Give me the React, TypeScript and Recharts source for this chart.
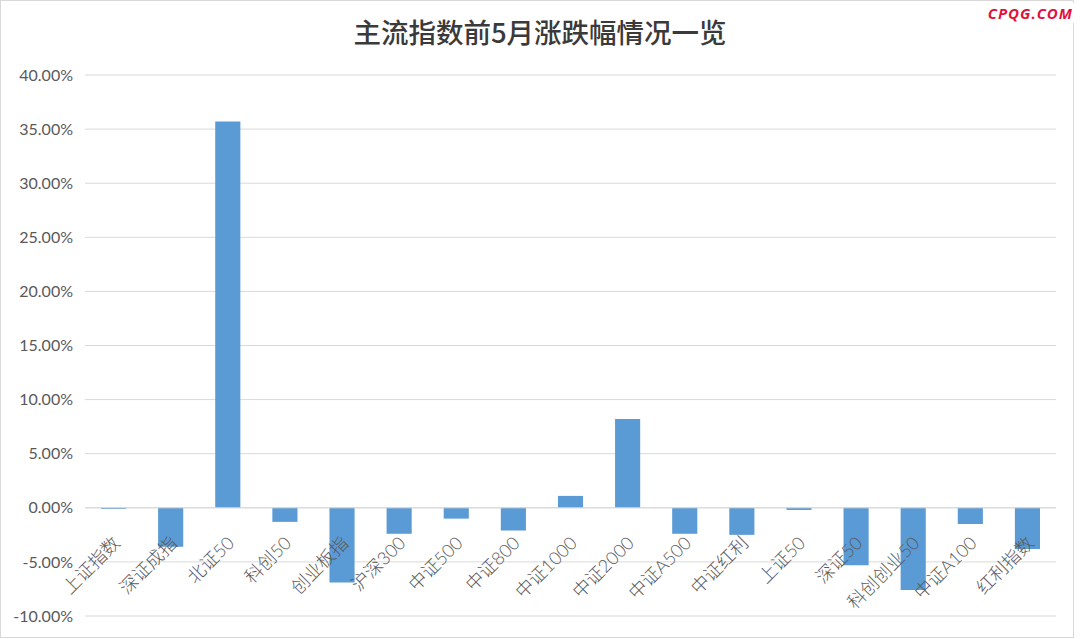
import { BarChart, Bar, XAxis, YAxis, CartesianGrid, ReferenceLine } from "recharts";

const categories = [
  "上证指数", "深证成指", "北证50", "科创50", "创业板指", "沪深300", "中证500", "中证800",
  "中证1000", "中证2000", "中证A500", "中证红利", "上证50", "深证50", "科创创业50", "中证A100", "红利指数",
];
const changes = [
  -0.001, -0.036, 0.357, -0.013, -0.069, -0.024, -0.010, -0.021,
  0.011, 0.082, -0.024, -0.025, -0.002, -0.053, -0.076, -0.015, -0.038,
];
const yTicks = [-0.1, -0.05, 0, 0.05, 0.1, 0.15, 0.2, 0.25, 0.3, 0.35, 0.4];

const data = categories.map((name, i) => ({ name, value: changes[i] }));

const W = 1080;
const H = 639;
const MARGIN = { top: 75, right: 24, bottom: 22, left: 0 };
const PLOT_H = H - MARGIN.top - MARGIN.bottom - 1;
const DOMAIN: [number, number] = [-0.1, 0.4];
// labels sit on the zero line, not at the bottom of the plot
const ZERO_SHIFT = (PLOT_H * (0 - DOMAIN[0])) / (DOMAIN[1] - DOMAIN[0]);

const FONT = "Lato, 'Noto Sans CJK SC', sans-serif";

function CategoryTick({ x, y, payload }: any) {
  const tx = x - 2;
  const ty = y - ZERO_SHIFT + 19;
  return (
    <text
      x={tx}
      y={ty}
      transform={`rotate(-45 ${tx} ${ty})`}
      textAnchor="end"
      dy="0.75em"
      fill="#595959"
      fontSize={18}
      fontWeight={300}
      fontFamily={FONT}
    >
      {payload.value}
    </text>
  );
}

export default function App() {
  return (
    <div style={{ position: "absolute", left: 0, top: 0, width: W, height: H, background: "#fff" }}>
      <div
        style={{
          position: "absolute", left: 0, top: 0, width: W - 6, height: H - 1,
          border: "1px solid #d9d9d9", boxSizing: "border-box",
        }}
      />
      <div
        style={{
          position: "absolute", left: 0, top: 11, width: W, textAlign: "center",
          fontFamily: "'Noto Sans CJK SC', sans-serif", fontSize: 27.5, color: "#3a3a3a", fontWeight: 500,
        }}
      >
        主流指数前5月涨跌幅情况一览
      </div>
      <div
        style={{
          position: "absolute", right: 3, top: 3, padding: "0 4px", background: "#fff",
          fontFamily: "'Open Sans', sans-serif", fontStyle: "italic", fontWeight: 700,
          fontSize: 15, color: "#e4103c", letterSpacing: 1,
        }}
      >
        CPQG.COM
      </div>
      <div style={{ position: "absolute", left: 0, top: 0 }}>
        <BarChart width={W} height={H} data={data} margin={MARGIN} barCategoryGap="72%">
          <CartesianGrid vertical={false} stroke="#d9d9d9" />
          <YAxis
            domain={DOMAIN}
            ticks={yTicks}
            width={85}
            axisLine={false}
            tickLine={false}
            tickSize={0}
            tickMargin={12}
            tickFormatter={(v: number) => `${(v * 100).toFixed(2)}%`}
            tick={{ fill: "#595959", fontSize: 16, fontFamily: FONT }}
          />
          <XAxis
            dataKey="name"
            height={1}
            axisLine={false}
            tickLine={false}
            interval={0}
            tick={<CategoryTick />}
          />
          <ReferenceLine y={0} stroke="#d9d9d9" />
          <Bar dataKey="value" fill="#5b9bd5" isAnimationActive={false} />
        </BarChart>
      </div>
    </div>
  );
}
